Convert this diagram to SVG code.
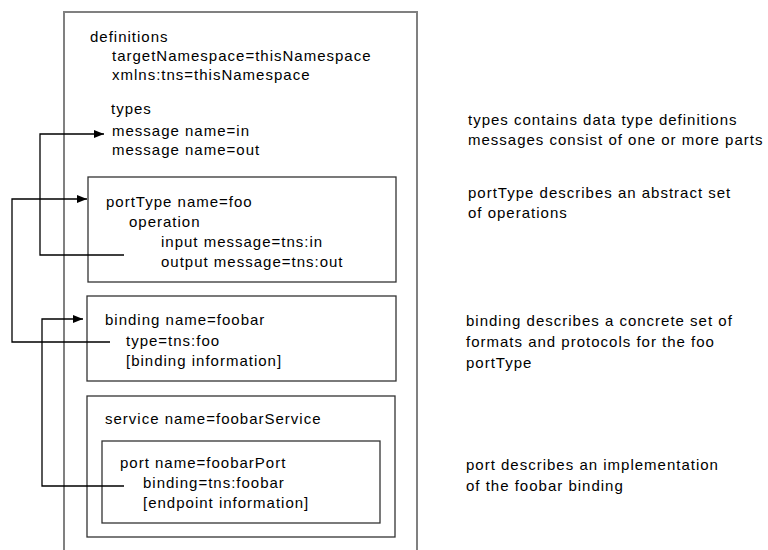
<svg xmlns="http://www.w3.org/2000/svg" width="768" height="550" viewBox="0 0 768 550">
<defs>
<style>
text{font-family:"Liberation Sans",Arial,sans-serif;font-size:15px;letter-spacing:1px;fill:#000}
.box{fill:none;stroke:#333;stroke-width:1.3}
.outer{fill:none;stroke:#808080;stroke-width:2}
.conn{fill:none;stroke:#000;stroke-width:1.3}
</style>
<marker id="arr" viewBox="0 0 10 8" refX="10" refY="4" markerWidth="10" markerHeight="8" markerUnits="userSpaceOnUse" orient="auto">
<path d="M0,0 L10,4 L0,8 Z" fill="#000"/>
</marker>
</defs>
<rect width="768" height="550" fill="#fff"/>
<g id="definitions">
<path class="outer" d="M64,550 V12 H417 V550"/>
<text x="90" y="42">definitions</text>
<text x="112" y="61">targetNamespace=thisNamespace</text>
<text x="112" y="80">xmlns:tns=thisNamespace</text>
<text x="111" y="114">types</text>
<text x="112" y="136">message name=in</text>
<text x="112" y="155">message name=out</text>
</g>
<g id="portType">
<rect class="box" x="88" y="177" width="308" height="105"/>
<text x="106" y="207">portType name=foo</text>
<text x="129" y="226.5">operation</text>
<text x="161" y="246.5">input message=tns:in</text>
<text x="161" y="266.5">output message=tns:out</text>
</g>
<g id="binding">
<rect class="box" x="87" y="296" width="309" height="85"/>
<text x="105" y="325">binding name=foobar</text>
<text x="126" y="346">type=tns:foo</text>
<text x="126" y="366">[binding information]</text>
</g>
<g id="service">
<rect class="box" x="87" y="396" width="308" height="141"/>
<text x="105" y="424">service name=foobarService</text>
</g>
<g id="port">
<rect class="box" x="102" y="441" width="278" height="82"/>
<text x="120" y="468">port name=foobarPort</text>
<text x="143" y="488">binding=tns:foobar</text>
<text x="143" y="508">[endpoint information]</text>
</g>
<g id="notes">
<text x="468" y="125">types contains data type definitions</text>
<text x="468" y="145">messages consist of one or more parts</text>
<text x="468" y="198">portType describes an abstract set</text>
<text x="468" y="218">of operations</text>
<text x="466" y="326">binding describes a concrete set of</text>
<text x="466" y="347">formats and protocols for the foo</text>
<text x="466" y="368">portType</text>
<text x="466" y="470">port describes an implementation</text>
<text x="466" y="491">of the foobar binding</text>
</g>
<g id="connectors">
<path class="conn" d="M124,255 H40 V134 H104" marker-end="url(#arr)"/>
<path class="conn" d="M110,342 H12 V199 H87" marker-end="url(#arr)"/>
<path class="conn" d="M124,486 H42 V319 H83" marker-end="url(#arr)"/>
</g>
</svg>
